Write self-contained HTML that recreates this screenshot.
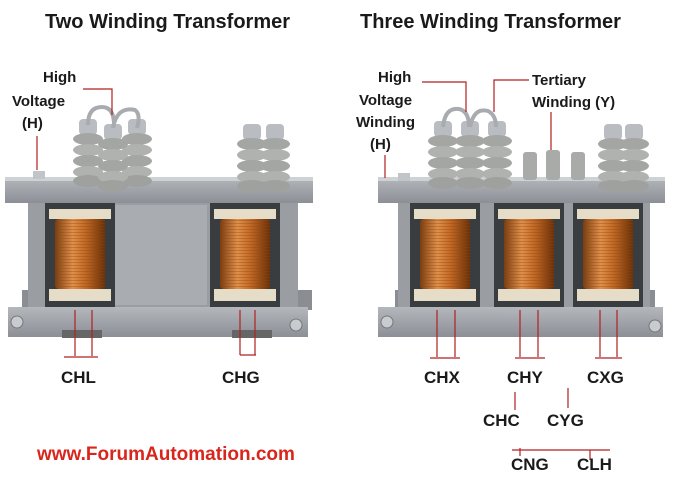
<!DOCTYPE html>
<html><head><style>
html,body{margin:0;padding:0;background:#fff;width:680px;height:481px;overflow:hidden}
svg text{font-family:"Liberation Sans",sans-serif;font-weight:bold;fill:#1a1a1a}
</style></head><body>
<svg width="680" height="481" viewBox="0 0 680 481" xmlns="http://www.w3.org/2000/svg">
<defs>
<linearGradient id="cu" x1="0" x2="1">
<stop offset="0" stop-color="#7a3d10"/><stop offset=".35" stop-color="#e0904a"/><stop offset=".6" stop-color="#c46a25"/><stop offset="1" stop-color="#6a3008"/></linearGradient>
<linearGradient id="steel" x1="0" y1="0" x2="0" y2="1">
<stop offset="0" stop-color="#b4b8bd"/><stop offset="1" stop-color="#8c9096"/></linearGradient>
<pattern id="wire" width="4" height="3" patternUnits="userSpaceOnUse"><rect width="4" height="3" fill="none"/><line x1="0" y1="2.5" x2="4" y2="2.5" stroke="#8a4512" stroke-width=".6" opacity=".6"/></pattern>
<g id="bush">
<rect x="-9" y="-4" width="18" height="16" rx="4" fill="#b9bcc0"/>
<ellipse cx="0" cy="16" rx="15" ry="6" fill="#a4a6a3"/>
<ellipse cx="0" cy="27" rx="15" ry="6" fill="#b0b2af"/>
<ellipse cx="0" cy="38" rx="15" ry="6" fill="#a4a6a3"/>
<ellipse cx="0" cy="49" rx="15" ry="6" fill="#b0b2af"/>
<ellipse cx="0" cy="58" rx="15" ry="6" fill="#9fa19e"/>
</g>
<g id="coil">
<rect x="0" y="0" width="70" height="105" fill="#3a3d40"/>
<rect x="4" y="6" width="62" height="10" fill="#e6ddc8"/>
<rect x="10" y="16" width="50" height="70" rx="4" fill="url(#cu)"/>
<rect x="10" y="16" width="50" height="70" fill="url(#wire)"/>
<rect x="4" y="86" width="62" height="12" fill="#e6ddc8"/>
</g>
</defs>

<text x="45" y="28" font-size="20">Two Winding Transformer</text>
<text x="360" y="28" font-size="20">Three Winding Transformer</text>

<!-- left transformer -->
<rect x="22" y="290" width="290" height="20" fill="#8a8e93"/>
<rect x="28" y="198" width="270" height="112" fill="#9a9ea3"/>
<rect x="115" y="205" width="92" height="100" fill="#a9adb2"/>
<use href="#coil" x="45" y="203"/>
<use href="#coil" x="210" y="203"/>
<rect x="8" y="307" width="300" height="30" fill="url(#steel)"/>
<circle cx="17" cy="322" r="6" fill="#c8cbcf" stroke="#777"/>
<circle cx="296" cy="325" r="6" fill="#c8cbcf" stroke="#777"/>
<rect x="5" y="177" width="308" height="26" fill="url(#steel)"/>
<rect x="5" y="177" width="308" height="4" fill="#cfd2d5"/>
<rect x="33" y="171" width="12" height="8" fill="#c2c5c8"/>
<use href="#bush" x="88" y="123"/>
<use href="#bush" x="137" y="123"/>
<use href="#bush" x="113" y="128"/>
<path d="M88 125 q0 -18 14 -18 q12 0 12 18 M113 128 q4 -22 22 -18 q6 4 2 18" stroke="#a8abaf" stroke-width="4" fill="none"/>
<use href="#bush" x="252" y="128"/>
<use href="#bush" x="275" y="128"/>
<rect x="62" y="330" width="40" height="8" fill="#666"/><rect x="232" y="330" width="40" height="8" fill="#666"/>

<text x="43" y="82" font-size="15">High</text>
<text x="12" y="106" font-size="15">Voltage</text>
<text x="22" y="128" font-size="15">(H)</text>
<path d="M83 89 H112 V115 M37 136 V170" stroke="#b02020" stroke-width="1.2" fill="none"/>
<path d="M75 310 V356 M92 310 V356 M64 357 H98 M240 310 V355 M255 310 V355 M240 355 H256" stroke="#b02020" stroke-width="1.2" fill="none"/>
<text x="61" y="383" font-size="17">CHL</text>
<text x="222" y="383" font-size="17">CHG</text>

<!-- right transformer -->
<rect x="395" y="290" width="260" height="20" fill="#8a8e93"/>
<rect x="398" y="198" width="252" height="112" fill="#9a9ea3"/>
<use href="#coil" x="410" y="203"/>
<use href="#coil" x="494" y="203"/>
<use href="#coil" x="573" y="203"/>
<rect x="378" y="307" width="285" height="30" fill="url(#steel)"/>
<circle cx="387" cy="322" r="6" fill="#c8cbcf" stroke="#777"/>
<circle cx="655" cy="326" r="6" fill="#c8cbcf" stroke="#777"/>
<rect x="378" y="177" width="287" height="26" fill="url(#steel)"/>
<rect x="378" y="177" width="287" height="4" fill="#cfd2d5"/>
<rect x="398" y="173" width="12" height="8" fill="#c2c5c8"/>
<use href="#bush" x="443" y="125"/>
<use href="#bush" x="470" y="125"/>
<use href="#bush" x="497" y="125"/>
<path d="M443 127 q2 -20 16 -18 q10 2 10 18 M470 127 q4 -20 18 -16 q8 4 8 16" stroke="#a8abaf" stroke-width="4" fill="none"/>
<rect x="523" y="152" width="14" height="28" rx="3" fill="#a9aba9"/>
<rect x="546" y="150" width="14" height="30" rx="3" fill="#a9aba9"/>
<rect x="571" y="152" width="14" height="28" rx="3" fill="#a9aba9"/>
<use href="#bush" x="613" y="128"/>
<use href="#bush" x="634" y="128"/>

<text x="378" y="82" font-size="15">High</text>
<text x="359" y="105" font-size="15">Voltage</text>
<text x="356" y="127" font-size="15">Winding</text>
<text x="370" y="149" font-size="15">(H)</text>
<text x="532" y="85" font-size="15">Tertiary</text>
<text x="532" y="107" font-size="15">Winding (Y)</text>
<path d="M422 82 H466 V112 M529 80 H494 V112 M551 112 V150 M385 155 V178" stroke="#b02020" stroke-width="1.2" fill="none"/>
<path d="M437 310 V357 M455 310 V357 M430 358 H460 M520 310 V357 M538 310 V357 M515 358 H545 M600 310 V357 M617 310 V357 M595 358 H622 M515 392 V410 M568 388 V408 M512 450 H610 M520 448 V456 M590 450 V460" stroke="#b02020" stroke-width="1.2" fill="none"/>
<text x="424" y="383" font-size="17">CHX</text>
<text x="507" y="383" font-size="17">CHY</text>
<text x="587" y="383" font-size="17">CXG</text>
<text x="483" y="426" font-size="17">CHC</text>
<text x="547" y="426" font-size="17">CYG</text>
<text x="511" y="470" font-size="17">CNG</text>
<text x="577" y="470" font-size="17">CLH</text>

<text x="37" y="460" font-size="19" style="fill:#d9261c">www.ForumAutomation.com</text>
</svg>
</body></html>
